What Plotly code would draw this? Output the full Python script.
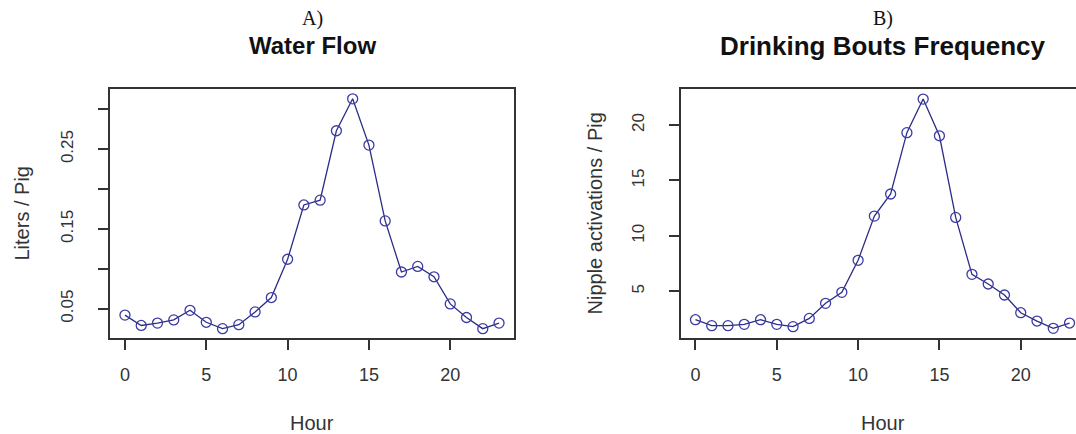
import plotly.graph_objects as go

# ---- data ----
hours = list(range(24))
water_flow = [0.042, 0.029, 0.032, 0.036, 0.048, 0.033, 0.025, 0.030, 0.046, 0.064,
              0.112, 0.180, 0.186, 0.273, 0.313, 0.255, 0.160, 0.096, 0.103, 0.090,
              0.056, 0.039, 0.025, 0.032]
bouts = [2.44, 1.90, 1.90, 2.02, 2.44, 2.02, 1.81, 2.56, 3.92, 4.91,
         7.80, 11.79, 13.78, 19.31, 22.34, 19.03, 11.67, 6.53, 5.66, 4.67,
         3.07, 2.32, 1.66, 2.14]
x_ticks = [0, 5, 10, 15, 20]
wf_ticks = [0.05, 0.10, 0.15, 0.20, 0.25, 0.30]
wf_ticktext = ["0.05", "", "0.15", "", "0.25", ""]
bt_ticks = [5, 10, 15, 20]
bt_ticktext = ["5", "10", "15", "20"]
panel_letters = ["A)", "B)"]
panel_titles = ["Water Flow", "Drinking Bouts Frequency"]
y_titles = ["Liters / Pig", "Nipple activations / Pig"]
x_title = "Hour"

W, H = 1076, 434
LINE = "#2c2c86"
MARK = "#3b3ba6"
AX = "#333333"
SANS = "Liberation Sans, Arial, sans-serif"
SERIF = "Liberation Serif, Times New Roman, serif"

def px(x):
    return x / W

def py(y):
    return 1 - y / H

fig = go.Figure()
for ys, xa, ya in [(water_flow, "x", "y"), (bouts, "x2", "y2")]:
    fig.add_trace(go.Scatter(
        x=hours, y=ys, xaxis=xa, yaxis=ya, mode="lines+markers",
        line=dict(color=LINE, width=1.3),
        marker=dict(symbol="circle-open", size=10, color=MARK, line=dict(width=1.3, color=MARK)),
        showlegend=False, hoverinfo="skip", cliponaxis=False))

top, bot = 89, 338
ydom = [py(bot), py(top)]

common_x = dict(showline=True, linecolor=AX, linewidth=1.5, mirror=True,
                ticks="outside", ticklen=10, tickwidth=1.5, tickcolor=AX,
                tickvals=x_ticks, showgrid=False, zeroline=False,
                tickfont=dict(family=SANS, size=18, color=AX), ticklabelstandoff=10)
common_y = dict(showline=True, linecolor=AX, linewidth=1.5,
                ticks="outside", ticklen=10, tickwidth=1.5, tickcolor=AX,
                showgrid=False, zeroline=False, tickangle=-90,
                tickfont=dict(family=SANS, size=17, color=AX), ticklabelstandoff=18)

# plot boxes (pixels); the right panel continues past the image edge
L0, L1 = 110, 514
pph = (L1 - L0) / 24.84
R0 = 680.5
r_end = -0.92 + (W - R0) / pph

fig.update_layout(
    width=W, height=H, margin=dict(l=0, r=0, t=0, b=0),
    paper_bgcolor="white", plot_bgcolor="white",
    xaxis=dict(domain=[px(L0), px(L1)], range=[-0.92, 23.92], anchor="y", **common_x),
    yaxis=dict(domain=ydom, range=[0.0133, 0.3253], anchor="x", mirror=True,
               tickvals=wf_ticks, ticktext=wf_ticktext, **common_y),
    xaxis2=dict(domain=[px(R0), 1.0], range=[-0.92, r_end], anchor="y2", **common_x),
    yaxis2=dict(domain=ydom, range=[0.79, 23.25], anchor="x2", mirror=False,
                tickvals=bt_ticks, ticktext=bt_ticktext, **common_y),
)

anns = []
centers = [(L0 + L1) / 2, R0 + (L1 - L0) / 2]
ytitle_x = [21, 594]
title_sizes = [24, 26]
for i in range(2):
    anns.append(dict(text=panel_letters[i], x=px(centers[i]), y=py(19), xref="paper", yref="paper",
                     showarrow=False, xanchor="center", yanchor="middle",
                     font=dict(family=SERIF, size=20, color="#111111")))
    anns.append(dict(text="<b>" + panel_titles[i] + "</b>", x=px(centers[i]), y=py(46),
                     xref="paper", yref="paper", showarrow=False, xanchor="center", yanchor="middle",
                     font=dict(family=SANS, size=title_sizes[i], color="#111111")))
    anns.append(dict(text=x_title, x=px(centers[i]), y=py(423), xref="paper", yref="paper",
                     showarrow=False, xanchor="center", yanchor="middle",
                     font=dict(family=SANS, size=20, color=AX)))
    anns.append(dict(text=y_titles[i], x=px(ytitle_x[i]), y=py((top + bot) / 2), xref="paper",
                     yref="paper", showarrow=False, xanchor="center", yanchor="middle",
                     textangle=-90, font=dict(family=SANS, size=20, color=AX)))
fig.update_layout(annotations=anns)

fig.write_html("out.html")
